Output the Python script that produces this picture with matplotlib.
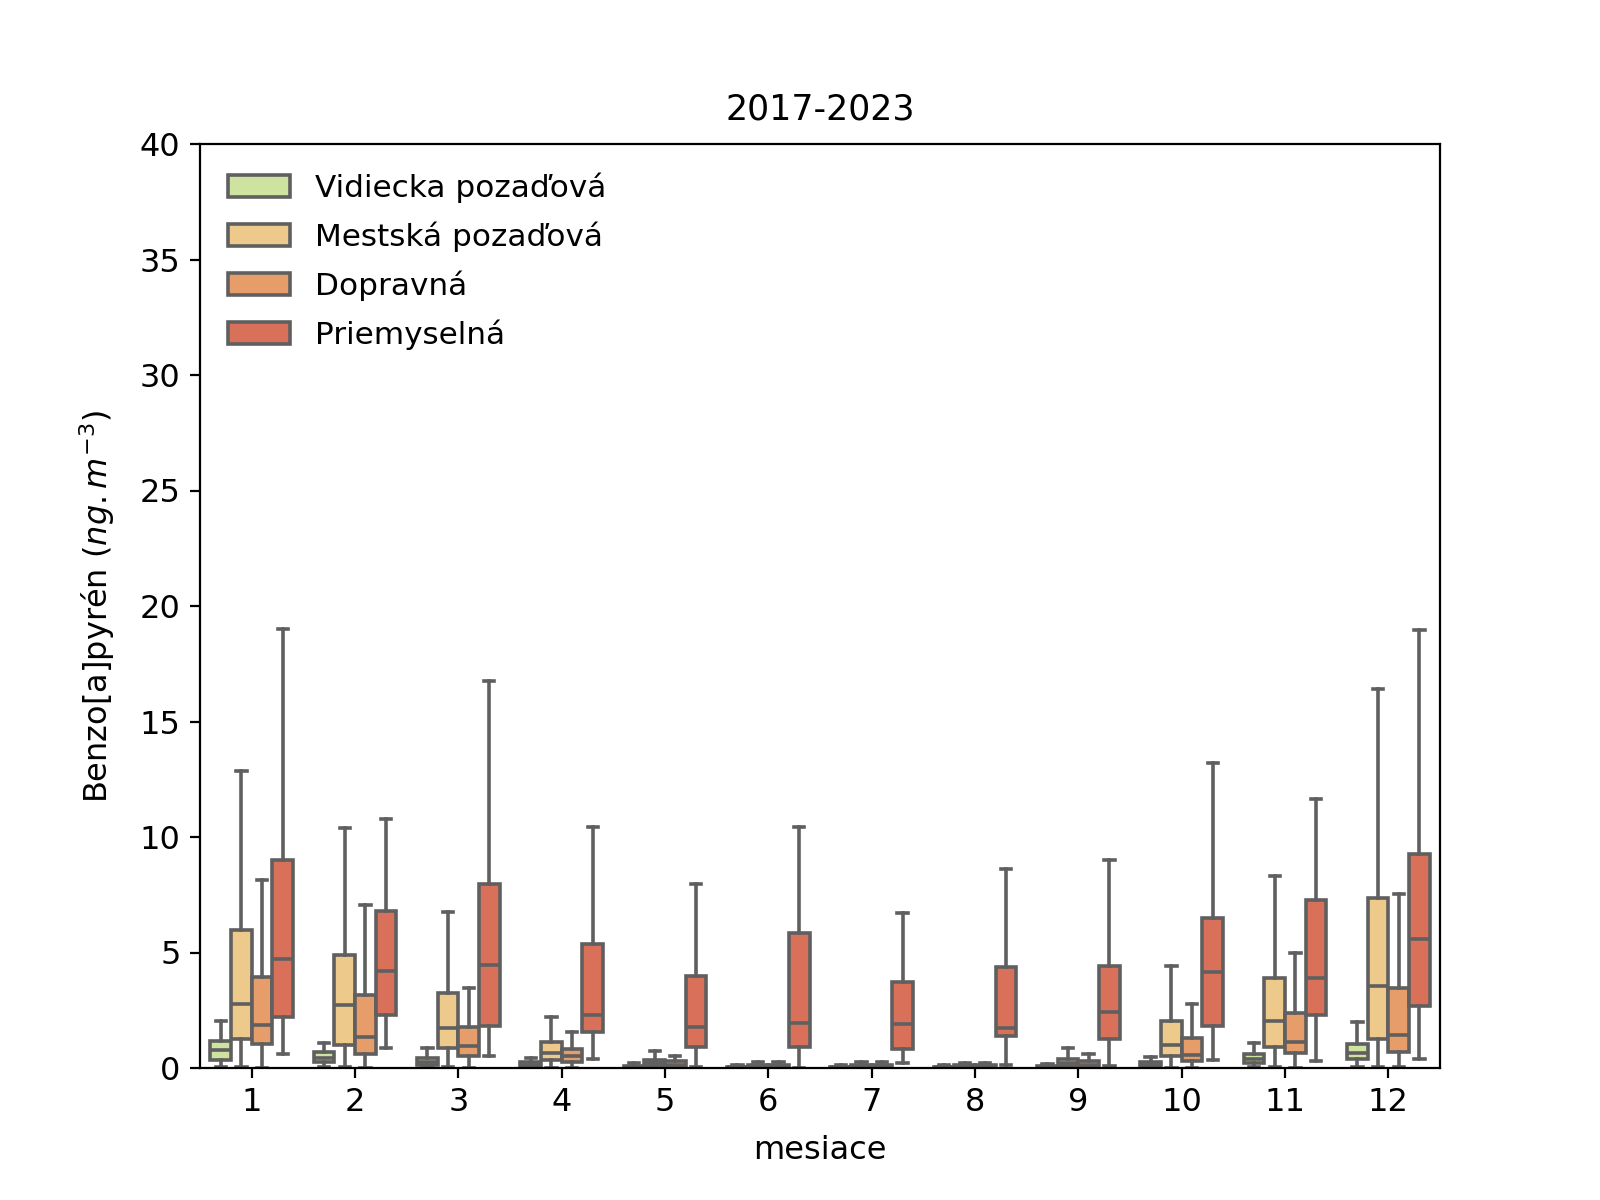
import matplotlib
matplotlib.use("Agg")
from matplotlib import pyplot as plt
from matplotlib.patches import Patch

# Box statistics per month: [whislo, q1, median, q3, whishi]
months = [1, 2, 3, 4, 5, 6, 7, 8, 9, 10, 11, 12]
labels = ["Vidiecka pozaďová", "Mestská pozaďová", "Dopravná", "Priemyselná"]
colors = ["#cfe3a1", "#edc98b", "#e69d6a", "#d8705a"]

vidiecka = [
    [0.05, 0.35, 0.80, 1.17, 2.05],
    [0.05, 0.25, 0.45, 0.68, 1.10],
    [0.02, 0.15, 0.28, 0.45, 0.88],
    [0.01, 0.06, 0.14, 0.25, 0.45],
    [0.01, 0.03, 0.06, 0.10, 0.20],
    [0.00, 0.02, 0.04, 0.06, 0.12],
    [0.00, 0.02, 0.04, 0.06, 0.12],
    [0.00, 0.02, 0.04, 0.06, 0.12],
    [0.01, 0.03, 0.06, 0.09, 0.16],
    [0.01, 0.06, 0.12, 0.25, 0.48],
    [0.03, 0.20, 0.40, 0.59, 1.07],
    [0.05, 0.40, 0.65, 1.05, 1.98],
]
mestska = [
    [0.03, 1.26, 2.77, 5.97, 12.87],
    [0.03, 1.00, 2.71, 4.90, 10.40],
    [0.03, 0.88, 1.72, 3.25, 6.74],
    [0.02, 0.35, 0.66, 1.13, 2.20],
    [0.01, 0.10, 0.20, 0.35, 0.74],
    [0.00, 0.03, 0.07, 0.12, 0.25],
    [0.00, 0.03, 0.07, 0.12, 0.25],
    [0.00, 0.03, 0.06, 0.11, 0.22],
    [0.01, 0.08, 0.20, 0.40, 0.88],
    [0.02, 0.50, 1.00, 2.03, 4.42],
    [0.03, 0.90, 2.03, 3.91, 8.31],
    [0.03, 1.24, 3.55, 7.37, 16.39],
]
dopravna = [
    [0.00, 1.04, 1.86, 3.94, 8.13],
    [0.00, 0.60, 1.36, 3.17, 7.06],
    [0.00, 0.53, 0.95, 1.79, 3.48],
    [0.01, 0.25, 0.50, 0.81, 1.54],
    [0.00, 0.06, 0.15, 0.30, 0.52],
    [0.00, 0.04, 0.08, 0.14, 0.25],
    [0.00, 0.04, 0.08, 0.14, 0.25],
    [0.00, 0.03, 0.07, 0.12, 0.22],
    [0.00, 0.06, 0.15, 0.30, 0.60],
    [0.01, 0.30, 0.58, 1.31, 2.78],
    [0.01, 0.66, 1.11, 2.38, 4.99],
    [0.03, 0.71, 1.43, 3.48, 7.52],
]
priemyselna = [
    [0.60, 2.22, 4.70, 8.99, 19.02],
    [0.85, 2.29, 4.21, 6.80, 10.77],
    [0.52, 1.83, 4.46, 7.95, 16.75],
    [0.40, 1.54, 2.29, 5.35, 10.42],
    [0.05, 0.92, 1.79, 3.98, 7.95],
    [0.02, 0.92, 1.96, 5.83, 10.42],
    [0.20, 0.82, 1.89, 3.72, 6.72],
    [0.15, 1.38, 1.74, 4.36, 8.63],
    [0.10, 1.26, 2.42, 4.42, 9.00],
    [0.35, 1.83, 4.16, 6.49, 13.19],
    [0.30, 2.29, 3.91, 7.27, 11.66],
    [0.40, 2.70, 5.60, 9.26, 18.95],
]

series = [vidiecka, mestska, dopravna, priemyselna]
offsets = [-0.3, -0.1, 0.1, 0.3]
edge = "#5f5f5f"
lw = 1.3

plt.rcParams["font.size"] = 11.5

fig, ax = plt.subplots(figsize=(8, 6), dpi=200)

for data, off, col in zip(series, offsets, colors):
    stats = [dict(whislo=s[0], q1=s[1], med=s[2], q3=s[3], whishi=s[4])
             for s in data]
    pos = [i + off for i in range(len(months))]
    ax.bxp(stats, positions=pos, widths=0.2, capwidths=0.1,
           patch_artist=True, showfliers=False, manage_ticks=False,
           boxprops=dict(facecolor=col, edgecolor=edge, linewidth=lw),
           medianprops=dict(color=edge, linewidth=lw),
           whiskerprops=dict(color=edge, linewidth=lw),
           capprops=dict(color=edge, linewidth=lw))

ax.set_xticks(range(len(months)))
ax.set_xticklabels([str(m) for m in months])
ax.set_xlim(-0.5, len(months) - 0.5)
ax.set_ylim(0, 40)
ax.set_title("2017-2023", fontsize=12.5, pad=9)
ax.set_xlabel("mesiace", labelpad=6)
ax.set_ylabel("Benzo[a]pyrén ($ng.m^{-3}$)", labelpad=8)

handles = [Patch(facecolor=c, edgecolor=edge, linewidth=lw) for c in colors]
ax.legend(handles, labels, loc="upper left", frameon=False, fontsize=11.2,
          labelspacing=0.6)

fig.savefig("out.png", dpi=200)
